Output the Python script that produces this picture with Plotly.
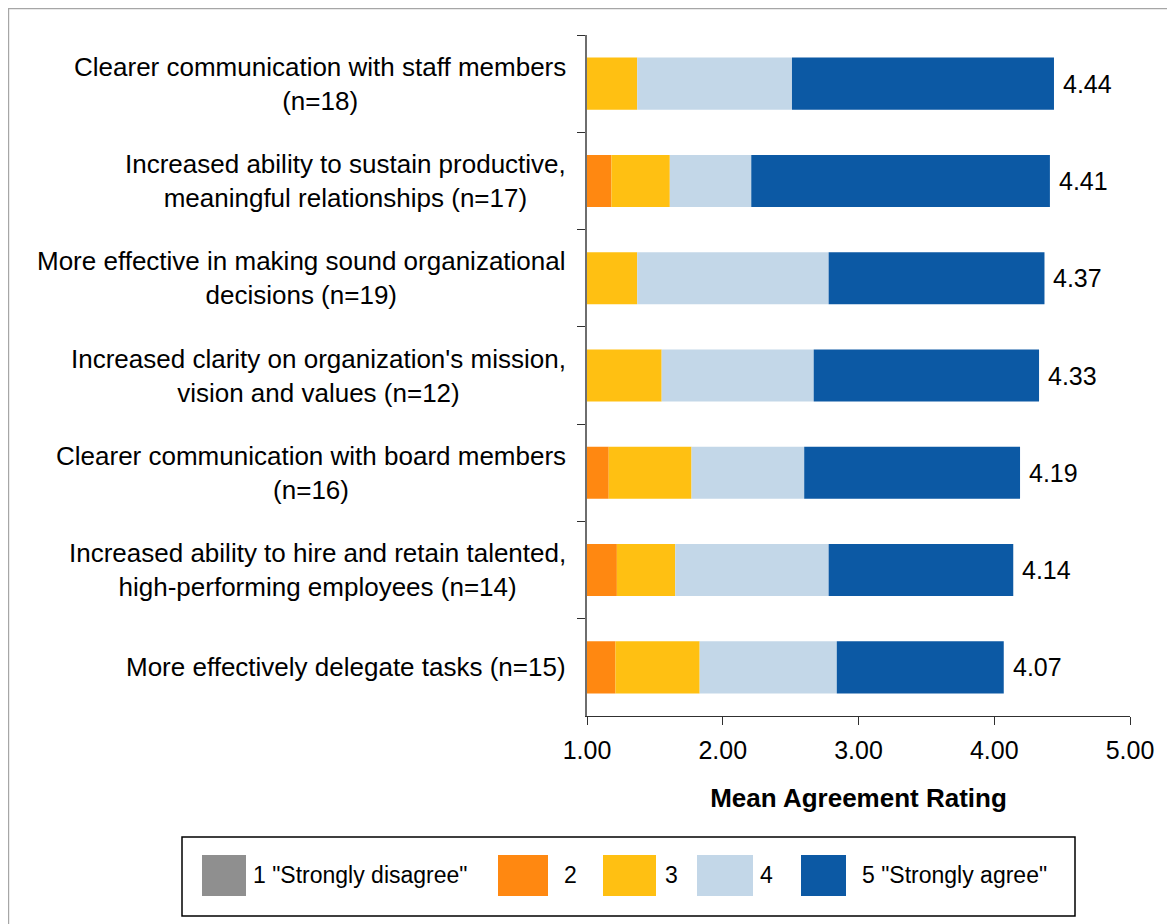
import plotly.graph_objects as go
import numpy as np

# ---- data ----
categories = [
    "Clearer communication with staff members<br>(n=18)",
    "Increased ability to sustain productive,<br>meaningful relationships (n=17)",
    "More effective in making sound organizational<br>decisions (n=19)",
    "Increased clarity on organization's mission,<br>vision and values (n=12)",
    "Clearer communication with board members<br>(n=16)",
    "Increased ability to hire and retain talented,<br>high-performing employees (n=14)",
    "More effectively delegate tasks (n=15)",
]
series_names = ['1 "Strongly disagree"', "2", "3", "4", '5 "Strongly agree"']
seg1 = [0.00, 0.00, 0.00, 0.00, 0.00, 0.00, 0.00]
seg2 = [0.00, 0.18, 0.00, 0.00, 0.16, 0.22, 0.21]
seg3 = [0.37, 0.43, 0.37, 0.55, 0.61, 0.43, 0.62]
seg4 = [1.14, 0.60, 1.41, 1.12, 0.83, 1.13, 1.01]
seg5 = [1.93, 2.20, 1.59, 1.66, 1.59, 1.36, 1.23]
means = [4.44, 4.41, 4.37, 4.33, 4.19, 4.14, 4.07]
axis_start = 1.0
x_ticks = [1, 2, 3, 4, 5]

colors = ["#8F8F8F", "#FF8811", "#FFC012", "#C3D7E8", "#0C59A4"]
FONT = "Liberation Sans, Arial, sans-serif"

# page is offset by the 8px body margin
OFF = 8
W, H = 1175 - OFF, 924 - OFF
L, T = 587 - OFF, 35 - OFF
R = W - (1130 - OFF)
B = H - (716 - OFF)
PW, PH = W - L - R, H - T - B


def px2x(px):  # page pixel -> paper x
    return (px - OFF - L) / PW


def px2y(py):  # page pixel -> paper y
    return (H - B - (py - OFF)) / PH


fig = go.Figure()
segments = [seg1, seg2, seg3, seg4, seg5]
base = np.full(len(categories), axis_start)
for name, vals, col in zip(series_names, segments, colors):
    v = np.array(vals)
    fig.add_trace(go.Bar(
        y=categories, x=v, base=base.copy(), orientation="h",
        name=name, marker=dict(color=col, line=dict(width=0)),
        showlegend=False, hoverinfo="skip",
    ))
    base = base + v

annotations = []
# category labels (block right-aligned, lines centred)
for c in categories:
    annotations.append(dict(
        x=0, xref="paper", y=c, yref="y", text=c, showarrow=False,
        xanchor="right", xshift=-19, align="center",
        font=dict(family=FONT, size=26, color="black"),
    ))
# value labels
for c, m in zip(categories, means):
    annotations.append(dict(
        x=m, xref="x", y=c, yref="y", text=f"{m:.2f}", showarrow=False,
        xanchor="left", xshift=7,
        font=dict(family=FONT, size=25, color="black"),
    ))

# manual legend (large swatches like the original)
shapes = []
sw_left = [202, 498, 603, 697, 801]
sw_w = [44, 50, 53, 56, 45]
text_left = [251, 562, 663, 758, 860]
sw_top, sw_bot = 855, 896
for nm, col, xl, w, tl in zip(series_names, colors, sw_left, sw_w, text_left):
    shapes.append(dict(type="rect", xref="paper", yref="paper",
                       x0=px2x(xl), x1=px2x(xl + w), y0=px2y(sw_bot), y1=px2y(sw_top),
                       fillcolor=col, line=dict(width=0)))
    annotations.append(dict(
        x=px2x(tl), xref="paper", y=px2y(875), yref="paper", text=nm,
        showarrow=False, xanchor="left", yanchor="middle",
        font=dict(family=FONT, size=23, color="black"),
    ))
# legend box
shapes.append(dict(type="rect", xref="paper", yref="paper",
                   x0=px2x(182), x1=px2x(1075), y0=px2y(916), y1=px2y(837),
                   line=dict(color="black", width=1.5), fillcolor="rgba(0,0,0,0)"))
# outer chart border
shapes.append(dict(type="rect", xref="paper", yref="paper",
                   x0=px2x(8.6), x1=px2x(1200), y0=px2y(950), y1=px2y(8.6),
                   line=dict(color="#A6A6A6", width=1.2), fillcolor="rgba(0,0,0,0)"))

fig.update_layout(
    width=W, height=H,
    margin=dict(l=L, r=R, t=T, b=B, pad=0),
    barmode="overlay", bargap=0.465,
    plot_bgcolor="white", paper_bgcolor="white",
    font=dict(family=FONT, size=24, color="black"),
    showlegend=False,
    annotations=annotations, shapes=shapes,
    xaxis=dict(
        range=[1, 5], tickvals=x_ticks, tickformat=".2f",
        showgrid=False, zeroline=False, showline=True,
        linecolor="#303030", linewidth=1.2,
        ticks="outside", ticklen=8, tickcolor="#303030", tickwidth=1.2,
        tickfont=dict(family=FONT, size=25, color="black"),
        ticklabelstandoff=4,
        title=dict(text="<b>Mean Agreement Rating</b>", standoff=25,
                   font=dict(family=FONT, size=26, color="black")),
    ),
    yaxis=dict(
        type="category", autorange="reversed",
        showgrid=False, zeroline=False, showline=True,
        linecolor="#6E6E6E", linewidth=2,
        ticks="outside", ticklen=8, tickcolor="#303030", tickwidth=1.2,
        tickson="boundaries", showticklabels=False,
    ),
)

fig.write_html("out.html")
